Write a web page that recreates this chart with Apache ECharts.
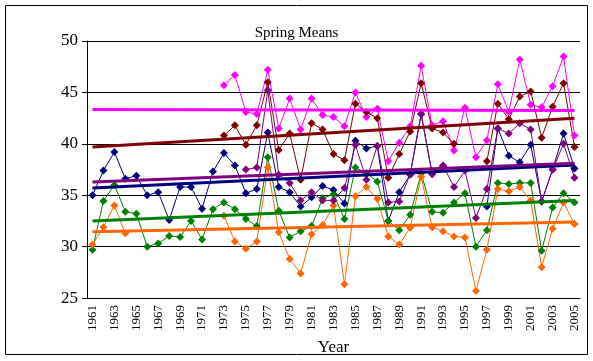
<!DOCTYPE html>
<html><head><meta charset="utf-8">
<script src="https://cdn.jsdelivr.net/npm/echarts@6/dist/echarts.min.js"></script>
<style>html,body{margin:0;padding:0;background:#fff}#c{width:593px;height:361px}</style>
</head><body><div id="c"></div>
<script>
var years = [];
for (var y = 1961; y <= 2005; y++) years.push(String(y));
var _ = null;
var navy = [35.0,37.4,39.2,36.6,36.9,35.0,35.3,32.6,35.8,35.8,33.7,37.3,39.1,37.9,35.2,35.6,41.1,35.8,35.3,33.9,34.8,35.9,35.5,34.2,40.3,39.55,39.8,32.5,35.3,37.0,42.9,37.15,37.8,_,_,_,33.9,41.5,38.85,38.2,39.9,34.4,37.5,41.0,37.6];
var magenta = [_,_,_,_,_,_,_,_,_,_,_,_,45.7,46.7,43.1,42.9,47.2,41.5,44.4,41.4,44.4,42.8,42.6,41.7,45.0,42.6,43.4,38.3,40.1,41.7,47.6,41.8,42.2,39.35,43.5,38.7,40.35,45.8,43.1,48.2,43.8,43.55,45.6,48.5,40.8];
var maroon = [_,_,_,_,_,_,_,_,_,_,_,_,40.8,41.8,39.9,41.8,46.0,39.4,41.0,36.5,42.0,41.4,39.0,38.4,43.9,43.1,42.5,36.7,39.0,41.2,45.9,41.5,41.1,40.0,_,_,38.3,43.9,42.4,44.6,45.1,40.6,43.6,45.9,39.7];
var purple = [_,_,_,_,_,_,_,_,_,_,_,_,_,_,37.5,37.7,45.2,37.0,36.2,34.5,35.3,34.5,34.5,35.7,39.9,36.5,39.8,34.3,34.4,37.05,42.9,37.05,37.9,35.8,37.4,32.8,35.6,41.5,41.0,42.0,41.4,34.4,37.5,40.0,36.7];
var green = [29.7,34.45,36.0,33.4,33.2,30.0,30.3,31.05,30.95,32.5,30.7,33.65,34.3,33.65,32.7,32.0,38.7,33.5,30.9,31.5,32.0,34.7,35.1,32.7,37.7,37.15,36.35,32.5,31.6,33.1,37.15,33.4,33.3,34.3,35.2,30.0,31.6,36.2,36.1,36.2,36.2,29.6,33.8,35.2,34.3];
var orange = [30.2,31.9,34.0,31.3,_,_,_,_,_,_,_,_,33.0,30.5,29.8,30.5,37.7,31.4,28.8,27.4,31.2,32.1,34.0,26.35,34.9,35.8,34.65,31.0,30.2,31.85,36.8,31.9,31.5,31.0,30.9,25.7,29.7,35.6,35.4,35.8,34.5,28.0,31.75,34.3,32.2];
// trend line end values (1961, 2005)
var trendNavy = [35.7, 37.95];
var trendMagenta = [43.35, 43.25];
var trendMaroon = [39.7, 42.5];
var trendPurple = [36.3, 38.12];
var trendGreen = [32.5, 34.5];
var trendOrange = [31.45, 32.4];
var yTicks = [25, 30, 35, 40, 45, 50];

var defs = [
  {d: navy, t: trendNavy, c: '#000080'},
  {d: magenta, t: trendMagenta, c: '#FF00FF'},
  {d: maroon, t: trendMaroon, c: '#800000'},
  {d: green, t: trendGreen, c: '#008000'},
  {d: orange, t: trendOrange, c: '#FF6600'},
  {d: purple, t: trendPurple, c: '#800080'}
];
var series = [];
defs.forEach(function (s) {
  series.push({type: 'line', data: s.d, symbol: 'diamond', symbolSize: 8,
    showSymbol: true, showAllSymbol: true,
    connectNulls: false, animation: false,
    lineStyle: {color: s.c, width: 1}, itemStyle: {color: s.c}, z: 2});
});
defs.forEach(function (s) {
  series.push({type: 'line', data: [[0, s.t[0]], [years.length - 1, s.t[1]]],
    symbol: 'none', animation: false,
    lineStyle: {color: s.c, width: 3}, z: 3});
});

var chart = echarts.init(document.getElementById('c'), null, {renderer: 'canvas'});
chart.setOption({
  backgroundColor: '#fff',
  animation: false,
  title: {text: 'Spring Means', left: 'center', top: 21,
    textStyle: {fontFamily: 'Liberation Serif', fontSize: 15, fontWeight: 'normal', color: '#000'}},
  grid: {left: 87, right: 13, top: 41, bottom: 60},
  xAxis: {type: 'category', data: years, boundaryGap: true,
    axisLine: {lineStyle: {color: '#000', width: 1}},
    axisTick: {interval: 0, length: 4, lineStyle: {color: '#000'}},
    axisLabel: {interval: 1, rotate: 90, fontFamily: 'Liberation Serif', fontSize: 13, color: '#000', margin: 7},
    name: 'Year', nameLocation: 'middle', nameGap: 35,
    nameTextStyle: {fontFamily: 'Liberation Serif', fontSize: 17, color: '#000'}},
  yAxis: {type: 'value', min: yTicks[0], max: yTicks[yTicks.length - 1], interval: 5,
    axisLine: {show: true, lineStyle: {color: '#000', width: 1}},
    axisTick: {show: true, length: 5, lineStyle: {color: '#000'}},
    splitLine: {lineStyle: {color: '#000', width: 1}},
    axisLabel: {fontFamily: 'Liberation Serif', fontSize: 17, color: '#000', margin: 9}},
  graphic: [{type: 'rect', shape: {x: 5.5, y: 5.5, width: 582, height: 349},
    style: {fill: null, stroke: '#000', lineWidth: 1}, silent: true, z: 100}],
  series: series
});
</script></body></html>
